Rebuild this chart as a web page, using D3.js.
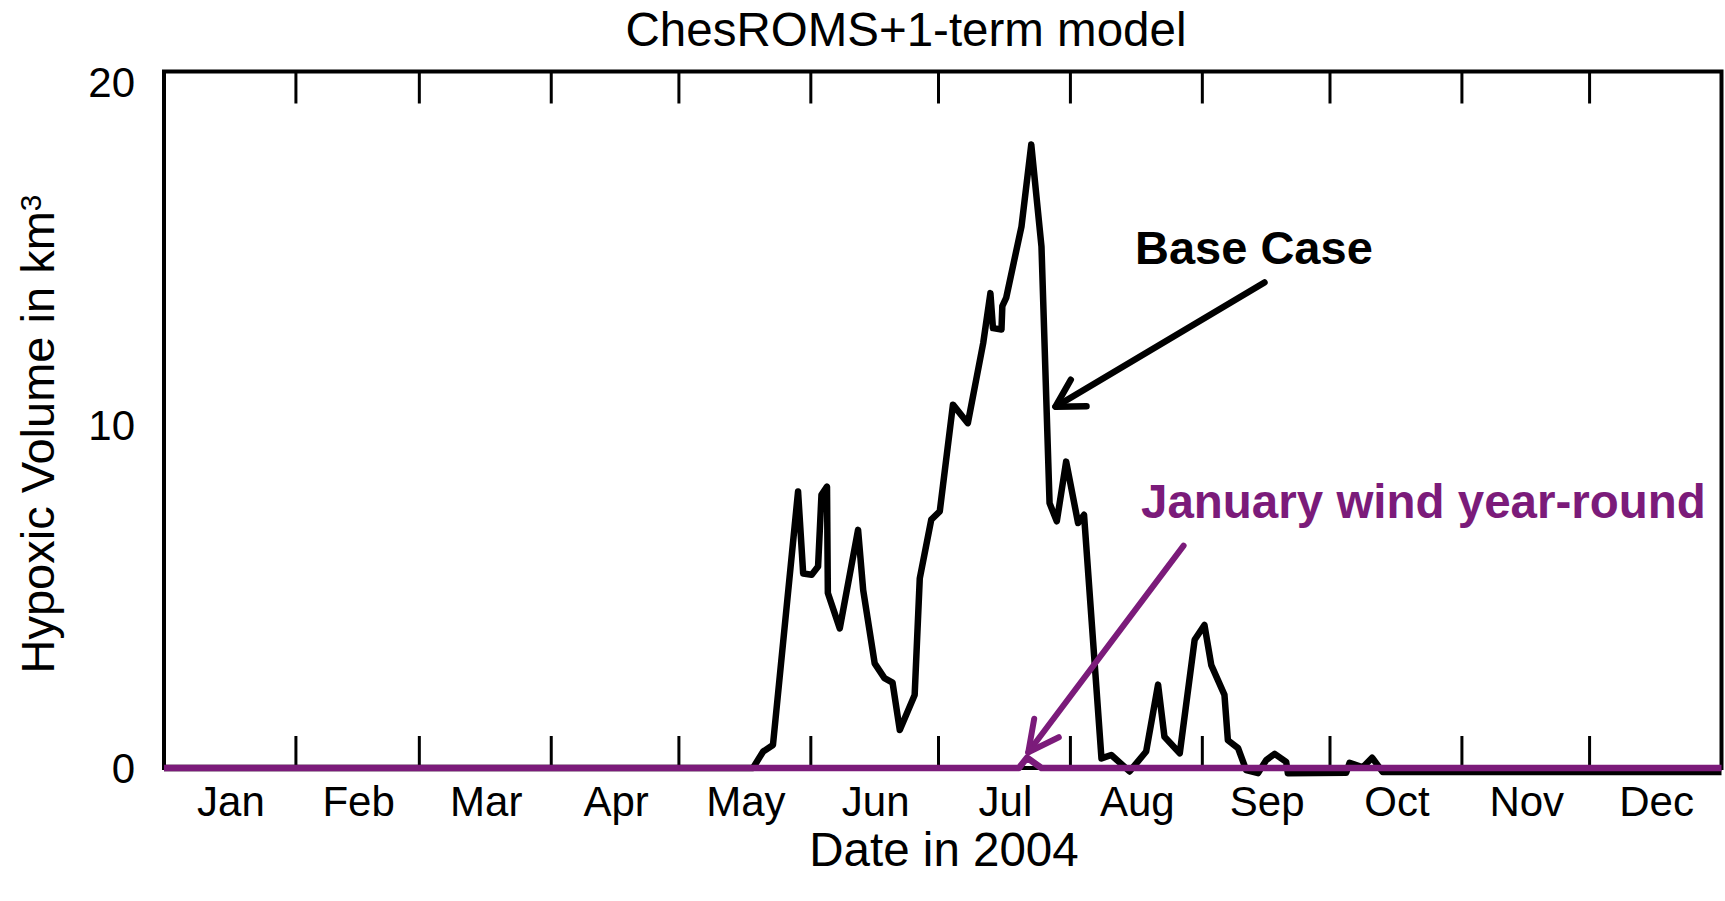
<!DOCTYPE html>
<html>
<head>
<meta charset="utf-8">
<script src="https://cdn.jsdelivr.net/npm/d3@7"></script>
<style>
  body { margin: 0; background: #fff; }
  text { font-family: "Liberation Sans", Arial, sans-serif; }
</style>
</head>
<body>
<div id="chart"></div>
<script>
// day of year 2004 (0 = Jan 1), hypoxic volume in km3
var baseDays = [0, 138.4, 140.8, 143.1, 149.0, 150.2, 152.2, 153.7, 154.5, 155.8, 156.0, 158.8,
  163.1, 164.3, 167.0, 169.3, 171.2, 172.9, 176.4, 177.6, 180.3, 182.3, 185.4, 188.9,
  192.5, 194.2, 194.8, 196.8, 197.0, 197.9, 201.5, 203.8, 206.2, 208.1, 209.8, 212.0,
  214.8, 216.2, 220.3, 222.6, 226.9, 230.8, 233.6, 235.1, 238.7, 242.2, 244.5, 246.1,
  249.2, 250.0, 252.4, 254.3, 257.1, 259.0, 261.0, 263.7, 264.1, 277.8, 278.6, 281.7,
  283.9, 286.4, 366];
var baseValues = [0, 0, 0.48, 0.67, 8.06, 5.67, 5.63, 5.87, 7.96, 8.2, 5.1, 4.07,
  6.94, 5.19, 3.05, 2.62, 2.49, 1.11, 2.13, 5.53, 7.24, 7.48, 10.59, 10.05,
  12.38, 13.84, 12.82, 12.78, 13.46, 13.7, 15.78, 18.17, 15.2, 7.72, 7.19, 8.93,
  7.14, 7.38, 0.28, 0.38, -0.1, 0.48, 2.43, 0.91, 0.43, 3.74, 4.17, 3.0,
  2.13, 0.81, 0.58, -0.06, -0.15, 0.23, 0.41, 0.18, -0.15, -0.14, 0.15, 0.02,
  0.3, -0.12, -0.12];

var windDays = [0, 200.9, 202.8, 206.2, 366];
var windValues = [0, 0, 0.3, 0, 0];

var monthLabels = ["Jan", "Feb", "Mar", "Apr", "May", "Jun", "Jul", "Aug", "Sep", "Oct", "Nov", "Dec"];
var yTicks = [0, 10, 20];
var yMax = 20.3;

var purple = "#7b1b7a";

var width = 1725, height = 901;
var margin = { top: 71.5, left: 164, right: 3.5, bottom: 133 };

var svg = d3.select("#chart").append("svg")
  .attr("width", width)
  .attr("height", height);

var start = new Date(2004, 0, 1), end = new Date(2005, 0, 1);
var x = d3.scaleTime().domain([start, end]).range([margin.left, width - margin.right]);
var y = d3.scaleLinear().domain([0, yMax]).range([height - margin.bottom, margin.top]);

function dayToDate(d) { return new Date(start.getTime() + d * 86400000); }

var base = baseDays.map(function(d, i) { return { date: dayToDate(d), value: baseValues[i] }; });
var wind = windDays.map(function(d, i) { return { date: dayToDate(d), value: windValues[i] }; });

var line = d3.line()
  .x(function(d) { return x(d.date); })
  .y(function(d) { return y(d.value); });

// frame
svg.append("rect")
  .attr("x", x(start)).attr("y", y(yMax))
  .attr("width", x(end) - x(start)).attr("height", y(0) - y(yMax))
  .attr("fill", "none").attr("stroke", "#000").attr("stroke-width", 4);

// month boundaries, ticks inward from top and bottom
var months = d3.timeMonth.range(start, end);
var bounds = months.slice(1);
var tickLen = 32;

svg.append("g").selectAll("line.top")
  .data(bounds).enter().append("line")
  .attr("x1", function(d) { return x(d); }).attr("x2", function(d) { return x(d); })
  .attr("y1", y(yMax)).attr("y2", y(yMax) + tickLen)
  .attr("stroke", "#000").attr("stroke-width", 3);

svg.append("g").selectAll("line.bottom")
  .data(bounds).enter().append("line")
  .attr("x1", function(d) { return x(d); }).attr("x2", function(d) { return x(d); })
  .attr("y1", y(0)).attr("y2", y(0) - tickLen)
  .attr("stroke", "#000").attr("stroke-width", 3);

// data lines
svg.append("path")
  .datum(base)
  .attr("d", line)
  .attr("fill", "none")
  .attr("stroke", "#000")
  .attr("stroke-width", 6.5)
  .attr("stroke-linejoin", "round");

svg.append("path")
  .datum(wind)
  .attr("d", line)
  .attr("fill", "none")
  .attr("stroke", purple)
  .attr("stroke-width", 6.5)
  .attr("stroke-linejoin", "round");

// month labels at mid-month
svg.append("g").selectAll("text")
  .data(months).enter().append("text")
  .attr("x", function(d) { return (x(d) + x(d3.timeMonth.offset(d, 1))) / 2 + 1; })
  .attr("y", 816)
  .attr("text-anchor", "middle")
  .style("font-size", "42px")
  .text(function(d, i) { return monthLabels[i]; });

// y labels
svg.append("g").selectAll("text")
  .data(yTicks).enter().append("text")
  .attr("x", 135)
  .attr("y", function(d) { return y(d); })
  .attr("dy", "0.36em")
  .attr("text-anchor", "end")
  .style("font-size", "42px")
  .text(function(d) { return d; });

svg.append("text")
  .attr("x", 906).attr("y", 46)
  .attr("text-anchor", "middle")
  .style("font-size", "47.5px")
  .text("ChesROMS+1-term model");

svg.append("text")
  .attr("x", 944).attr("y", 866)
  .attr("text-anchor", "middle")
  .style("font-size", "47.5px")
  .text("Date in 2004");

var ylab = svg.append("text")
  .attr("transform", "translate(54,434) rotate(-90)")
  .attr("text-anchor", "middle")
  .style("font-size", "47px");
ylab.append("tspan").text("Hypoxic Volume in km");
ylab.append("tspan").attr("dy", "-0.45em").style("font-size", "30px").text("3");

// annotations, anchored in data units
function arrow(tail, tip, color, w, wingLen, spread) {
  var x0 = x(dayToDate(tail[0])), y0 = y(tail[1]);
  var x1 = x(dayToDate(tip[0])), y1 = y(tip[1]);
  var ang = Math.atan2(y0 - y1, x0 - x1);
  var g = svg.append("g")
    .attr("stroke", color).attr("stroke-width", w)
    .attr("fill", "none").attr("stroke-linecap", "round").attr("stroke-linejoin", "round");
  g.append("line").attr("x1", x0).attr("y1", y0).attr("x2", x1).attr("y2", y1);
  g.append("path").attr("d",
    "M" + (x1 + wingLen * Math.cos(ang - spread)) + "," + (y1 + wingLen * Math.sin(ang - spread)) +
    "L" + x1 + "," + y1 +
    "L" + (x1 + wingLen * Math.cos(ang + spread)) + "," + (y1 + wingLen * Math.sin(ang + spread)));
}

arrow([258.6, 14.15], [209.5, 10.53], "#000", 6.5, 31, 0.52);
arrow([239.6, 6.48], [203.1, 0.46], purple, 6, 34, 0.47);

svg.append("text")
  .attr("x", 1135).attr("y", 264)
  .style("font-size", "47px").style("font-weight", "bold")
  .text("Base Case");

svg.append("text")
  .attr("x", 1141).attr("y", 518)
  .style("font-size", "47.5px").style("font-weight", "bold")
  .attr("fill", purple)
  .text("January wind year-round");
</script>
</body>
</html>
